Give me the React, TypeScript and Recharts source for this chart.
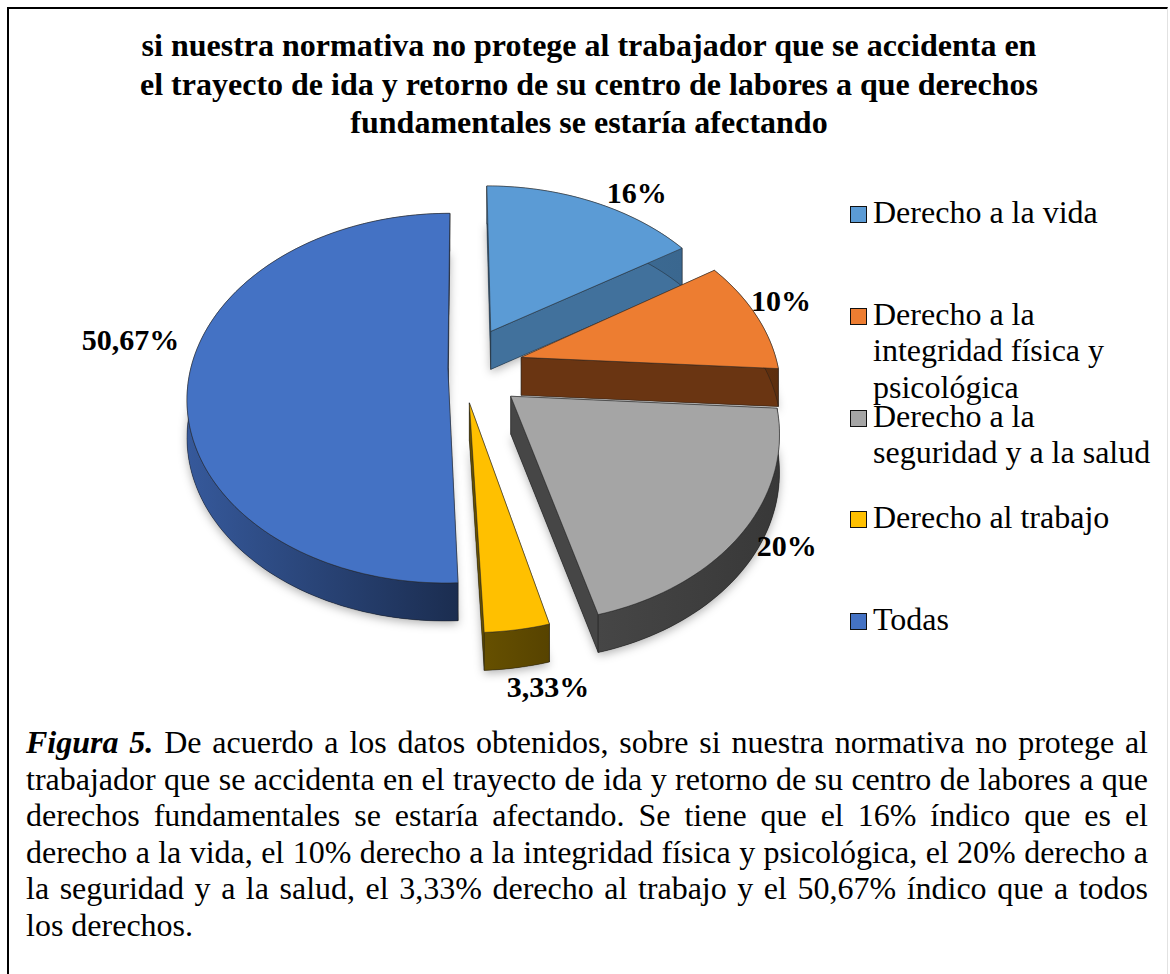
import React from 'react';
import { PieChart, Pie, Legend } from 'recharts';

// ---------- data ----------
const categories: string[] = [
  'Derecho a la vida',
  'Derecho a la integridad física y psicológica',
  'Derecho a la seguridad y a la salud',
  'Derecho al trabajo',
  'Todas',
];
const percentages: number[] = [16, 10, 20, 3.33, 50.67];

const titleLines: string[] = [
  'si nuestra normativa no protege al trabajador que se accidenta en',
  'el trayecto de ida y retorno de su centro de labores a que derechos',
  'fundamentales se estaría afectando',
];
const captionLead = 'Figura 5.';
const captionLines: string[] = [
  ' De acuerdo a los datos obtenidos, sobre si nuestra normativa no protege al',
  'trabajador que se accidenta en el trayecto de ida y retorno de su centro de labores a que',
  'derechos fundamentales se estaría afectando. Se tiene que el 16% índico que es el',
  'derecho a la vida, el 10% derecho a la integridad física y psicológica, el 20% derecho a',
  'la seguridad y a la salud, el 3,33% derecho al trabajo y el 50,67% índico que a todos',
  'los derechos.',
];

// ---------- styles ----------
const topColors = ['#5B9BD5', '#ED7D31', '#A5A5A5', '#FFC000', '#4472C4'];
const sideLight = ['#41719C', '#6a3512', '#464646', '#665000', '#36599b'];
const sideDark = ['#3a678f', '#5c2e0e', '#383838', '#574300', '#1b2d50'];
const explode = [0.24, 0.24, 0.24, 0.19, 0.055];
const labelNudge: [number, number][] = [
  [7, 0],
  [-23, -11],
  [-8, -10],
  [26, 16],
  [10, -33],
];

const SERIF = "'Liberation Serif', 'Times New Roman', serif";
const TILT = 0.7; // vertical squash of the pie
const PERSP = 0.162; // perspective strength
const DEPTH = 38; // extrusion depth in px
const LABEL_GAP = 0.08;

const data = categories.map((name, i) => ({ name, value: percentages[i] }));

const fmt = (v: number) =>
  (Number.isInteger(v) ? String(v) : v.toFixed(2).replace('.', ',')) + '%';

type P = [number, number];

function proj(cx: number, cy: number, r: number, u: number, v: number): P {
  const f = 1 / (1 - PERSP * v);
  return [cx + r * u * f, cy + r * TILT * v * f];
}

function geom(props: any) {
  const { cx, cy, outerRadius, startAngle, endAngle, midAngle, index } = props;
  const rad = Math.PI / 180;
  const e = explode[index] ?? 0;
  const ou = e * Math.cos(midAngle * rad);
  const ov = -e * Math.sin(midAngle * rad);
  const vertex = proj(cx, cy, outerRadius, ou, ov);
  const span = endAngle - startAngle;
  const n = Math.max(2, Math.ceil(Math.abs(span) / 1.5));
  const arc: P[] = [];
  for (let k = 0; k <= n; k++) {
    const a = (startAngle + (span * k) / n) * rad;
    arc.push(proj(cx, cy, outerRadius, ou + Math.cos(a), ov - Math.sin(a)));
  }
  const down = (p: P): P => [p[0], p[1] + DEPTH];
  const poly = (pts: P[]) =>
    'M' + pts.map((p) => `${p[0].toFixed(2)},${p[1].toFixed(2)}`).join('L') + 'Z';
  const top = poly([vertex, ...arc]);
  const bottom = poly([vertex, ...arc].map(down));
  const first = arc[0];
  const last = arc[arc.length - 1];
  const startFace = poly([vertex, first, down(first), down(vertex)]);
  const endFace = poly([vertex, last, down(last), down(vertex)]);
  const rim = poly([...arc, ...arc.slice().reverse().map(down)]);
  const startVisible = Math.cos(startAngle * rad) < 0;
  const endVisible = Math.cos(endAngle * rad) > 0;
  return { top, bottom, startFace, endFace, rim, startVisible, endVisible };
}

const renderSide = (props: any) => {
  const i = props.index;
  const g = geom(props);
  const gid = `sideGrad${i}`;
  const fill = `url(#${gid})`;
  const stroke = { stroke: '#1a1a1a', strokeOpacity: 0.55, strokeWidth: 0.8 };
  const faces = [
    { d: g.startFace, vis: g.startVisible },
    { d: g.endFace, vis: g.endVisible },
  ].sort((a, b) => Number(a.vis) - Number(b.vis));
  return (
    <g key={`side-${i}`}>
      <defs>
        {i === 0 && (
          <filter id="pieShadow" x="-20%" y="-20%" width="140%" height="140%">
            <feDropShadow dx="0" dy="3" stdDeviation="5" floodColor="#000" floodOpacity="0.3" />
          </filter>
        )}
        <linearGradient id={gid} x1="0" y1="0" x2="1" y2="0">
          <stop offset="0%" stopColor={sideLight[i]} />
          <stop offset="100%" stopColor={sideDark[i]} />
        </linearGradient>
      </defs>
      <g filter="url(#pieShadow)">
        <path d={g.bottom} fill={sideDark[i]} />
      </g>
      {faces.map((f, k) => (
        <path key={k} d={f.d} fill={sideLight[i]} {...stroke} />
      ))}
      <path d={g.rim} fill={fill} {...stroke} />
    </g>
  );
};

const renderTop = (props: any) => {
  const i = props.index;
  const g = geom(props);
  return (
    <path
      key={`top-${i}`}
      d={g.top}
      fill={topColors[i]}
      stroke="#2a2a2a"
      strokeOpacity={0.6}
      strokeWidth={0.9}
    />
  );
};

const renderText = (props: any) => {
  const { cx, cy, outerRadius, midAngle, index } = props;
  const rad = Math.PI / 180;
  const e = explode[index] ?? 0;
  const mu = Math.cos(midAngle * rad);
  const mv = -Math.sin(midAngle * rad);
  const k = 1 + e + LABEL_GAP;
  const [x0, y0] = proj(cx, cy, outerRadius, mu * k, mv * k);
  const nudge = labelNudge[index] ?? [0, 0];
  const x = x0 + nudge[0];
  const y = y0 + DEPTH * Math.max(0, mv) * 0.5 + nudge[1];
  const anchor = mu > 0.3 ? 'start' : mu < -0.3 ? 'end' : 'middle';
  return (
    <text
      key={`lbl-${index}`}
      x={x}
      y={y}
      textAnchor={anchor}
      dominantBaseline="central"
      fontFamily={SERIF}
      fontWeight="bold"
      fontSize={30}
      fill="#000"
    >
      {fmt(percentages[index])}
    </text>
  );
};

const renderLegend = () => (
  <div style={{ fontFamily: SERIF, fontSize: 32, lineHeight: '36.5px', color: '#000' }}>
    {categories.map((name, i) => (
      <div key={name} style={{ position: 'relative', height: 101.75 }}>
        <div
          style={{
            position: 'absolute',
            left: 0,
            top: 12,
            width: 15,
            height: 15,
            background: topColors[i],
            border: '1.5px solid #111',
          }}
        />
        <div style={{ position: 'absolute', left: 23, top: 0, width: 290 }}>{name}</div>
      </div>
    ))}
  </div>
);

export default function App() {
  return (
    <div style={{ position: 'relative', width: 1170, height: 974, overflow: 'hidden', background: '#fff' }}>
      <style>{`body{margin:0;overflow:hidden;background:#fff}`}</style>
      <div
        style={{
          position: 'absolute',
          left: 7,
          top: 7,
          width: 1161,
          height: 980,
          borderLeft: '2px solid #000',
          borderTop: '2px solid #000',
          borderRight: '1px solid #e2e2e2',
          boxSizing: 'border-box',
        }}
      />
      <div
        style={{
          position: 'absolute',
          left: 8,
          top: 26,
          width: 1162,
          textAlign: 'center',
          fontFamily: SERIF,
          fontWeight: 'bold',
          fontSize: 32,
          lineHeight: '38.5px',
          color: '#000',
        }}
      >
        {titleLines.map((l) => (
          <div key={l}>{l}</div>
        ))}
      </div>
      <div style={{ position: 'absolute', left: 0, top: 0 }}>
        <PieChart width={1170} height={974} margin={{ top: 0, right: 0, bottom: 0, left: 0 }}>
          <Pie
            data={data}
            dataKey="value"
            nameKey="name"
            cx={462}
            cy={368}
            outerRadius={257}
            startAngle={90}
            endAngle={-270}
            fill="none"
            stroke="none"
            label={renderSide}
            labelLine={false}
            isAnimationActive={false}
            legendType="none"
          />
          <Pie
            data={data}
            dataKey="value"
            nameKey="name"
            cx={462}
            cy={368}
            outerRadius={257}
            startAngle={90}
            endAngle={-270}
            fill="none"
            stroke="none"
            label={renderTop}
            labelLine={false}
            isAnimationActive={false}
            legendType="none"
          />
          <Pie
            data={data}
            dataKey="value"
            nameKey="name"
            cx={462}
            cy={368}
            outerRadius={257}
            startAngle={90}
            endAngle={-270}
            fill="none"
            stroke="none"
            label={renderText}
            labelLine={false}
            isAnimationActive={false}
            legendType="square"
          />
          <Legend
            layout="vertical"
            align="right"
            verticalAlign="top"
            content={renderLegend}
            wrapperStyle={{ position: 'absolute', left: 850, top: 194, width: 320, right: 'auto', bottom: 'auto' }}
          />
        </PieChart>
      </div>
      <div
        style={{
          position: 'absolute',
          left: 26,
          top: 724,
          width: 1122,
          fontFamily: SERIF,
          fontSize: 32,
          lineHeight: '36.5px',
          color: '#000',
        }}
      >
        {captionLines.map((line, i) => {
          const isLast = i === captionLines.length - 1;
          return (
            <div
              key={i}
              style={{
                textAlign: isLast ? 'left' : 'justify',
                textAlignLast: isLast ? 'left' : 'justify',
                whiteSpace: 'nowrap',
              }}
            >
              {i === 0 && (
                <b>
                  <i>{captionLead}</i>
                </b>
              )}
              {line}
            </div>
          );
        })}
      </div>
    </div>
  );
}
